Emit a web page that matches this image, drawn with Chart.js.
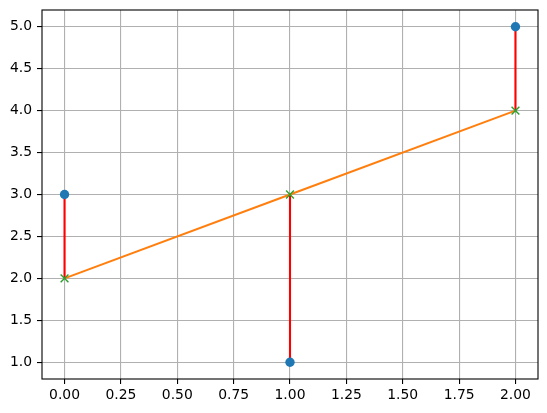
<!DOCTYPE html>
<html>
<head>
<meta charset="utf-8">
<script src="https://cdn.jsdelivr.net/npm/chart.js@4"></script>
<style>
    body { margin: 0; background: #fff; }
    #wrap { width: 547px; height: 413px; }
</style>
</head>
<body>
<div id="wrap"><canvas id="residChart" width="547" height="413"></canvas></div>
<script>
const xs = [0, 1, 2];
const observed = [3, 1, 5];
const fitted = [2, 3, 4];
const xTicks = [0, 0.25, 0.5, 0.75, 1, 1.25, 1.5, 1.75, 2];
const yTicks = [1, 1.5, 2, 2.5, 3, 3.5, 4, 4.5, 5];

Chart.defaults.font.family = 'DejaVu Sans';
Chart.defaults.font.size = 13.9;
Chart.defaults.color = '#000';

// matplotlib style frame round the plot area
const framePlugin = {
    id: 'frame',
    afterDraw(chart) {
        const { ctx, chartArea: a } = chart;
        ctx.save();
        ctx.strokeStyle = '#000';
        ctx.lineWidth = 1.1;
        ctx.strokeRect(a.left, a.top, a.right - a.left, a.bottom - a.top);
        ctx.restore();
    }
};

const residualSets = xs.map((x, i) => ({
    type: 'line',
    data: [{ x: x, y: observed[i] }, { x: x, y: fitted[i] }],
    borderColor: '#ff0000',
    borderWidth: 2.1,
    pointRadius: 0,
    order: 4
}));

const ctx = document.getElementById('residChart').getContext('2d');
new Chart(ctx, {
    type: 'scatter',
    data: {
        datasets: [
            ...residualSets,
            {
                type: 'line',
                data: xs.map((x, i) => ({ x: x, y: fitted[i] })),
                borderColor: '#ff7f0e',
                borderWidth: 2.1,
                pointRadius: 0,
                order: 3
            },
            {
                data: xs.map((x, i) => ({ x: x, y: observed[i] })),
                backgroundColor: '#1f77b4',
                borderColor: '#1f77b4',
                borderWidth: 0,
                pointRadius: 4.7,
                order: 2
            },
            {
                data: xs.map((x, i) => ({ x: x, y: fitted[i] })),
                pointStyle: 'crossRot',
                borderColor: '#2ca02c',
                borderWidth: 1.4,
                pointRadius: 5.5,
                order: 1
            }
        ]
    },
    options: {
        responsive: false,
        animation: false,
        layout: { padding: { top: 10, right: 9, left: 0, bottom: 0 } },
        plugins: {
            legend: { display: false },
            tooltip: { enabled: false }
        },
        scales: {
            x: {
                type: 'linear',
                min: -0.1,
                max: 2.1,
                afterBuildTicks: (scale) => { scale.ticks = xTicks.map(v => ({ value: v })); },
                afterFit: (scale) => {
                    scale.height = 34;
                    scale.paddingLeft = 0;
                    scale.paddingRight = 0;
                },
                ticks: {
                    padding: 3,
                    maxRotation: 0,
                    callback: (v) => Number(v).toFixed(2)
                },
                grid: { color: '#b0b0b0', lineWidth: 1.1, tickLength: 5, tickColor: '#000', tickWidth: 1.1 },
                border: { display: false }
            },
            y: {
                type: 'linear',
                min: 0.8,
                max: 5.2,
                afterBuildTicks: (scale) => { scale.ticks = yTicks.map(v => ({ value: v })); },
                afterFit: (scale) => {
                    scale.width = 42;
                    scale.paddingTop = 0;
                    scale.paddingBottom = 0;
                },
                ticks: {
                    padding: 5,
                    callback: (v) => Number(v).toFixed(1)
                },
                grid: { color: '#b0b0b0', lineWidth: 1.1, tickLength: 5, tickColor: '#000', tickWidth: 1.1 },
                border: { display: false }
            }
        }
    },
    plugins: [framePlugin]
});
</script>
</body>
</html>
